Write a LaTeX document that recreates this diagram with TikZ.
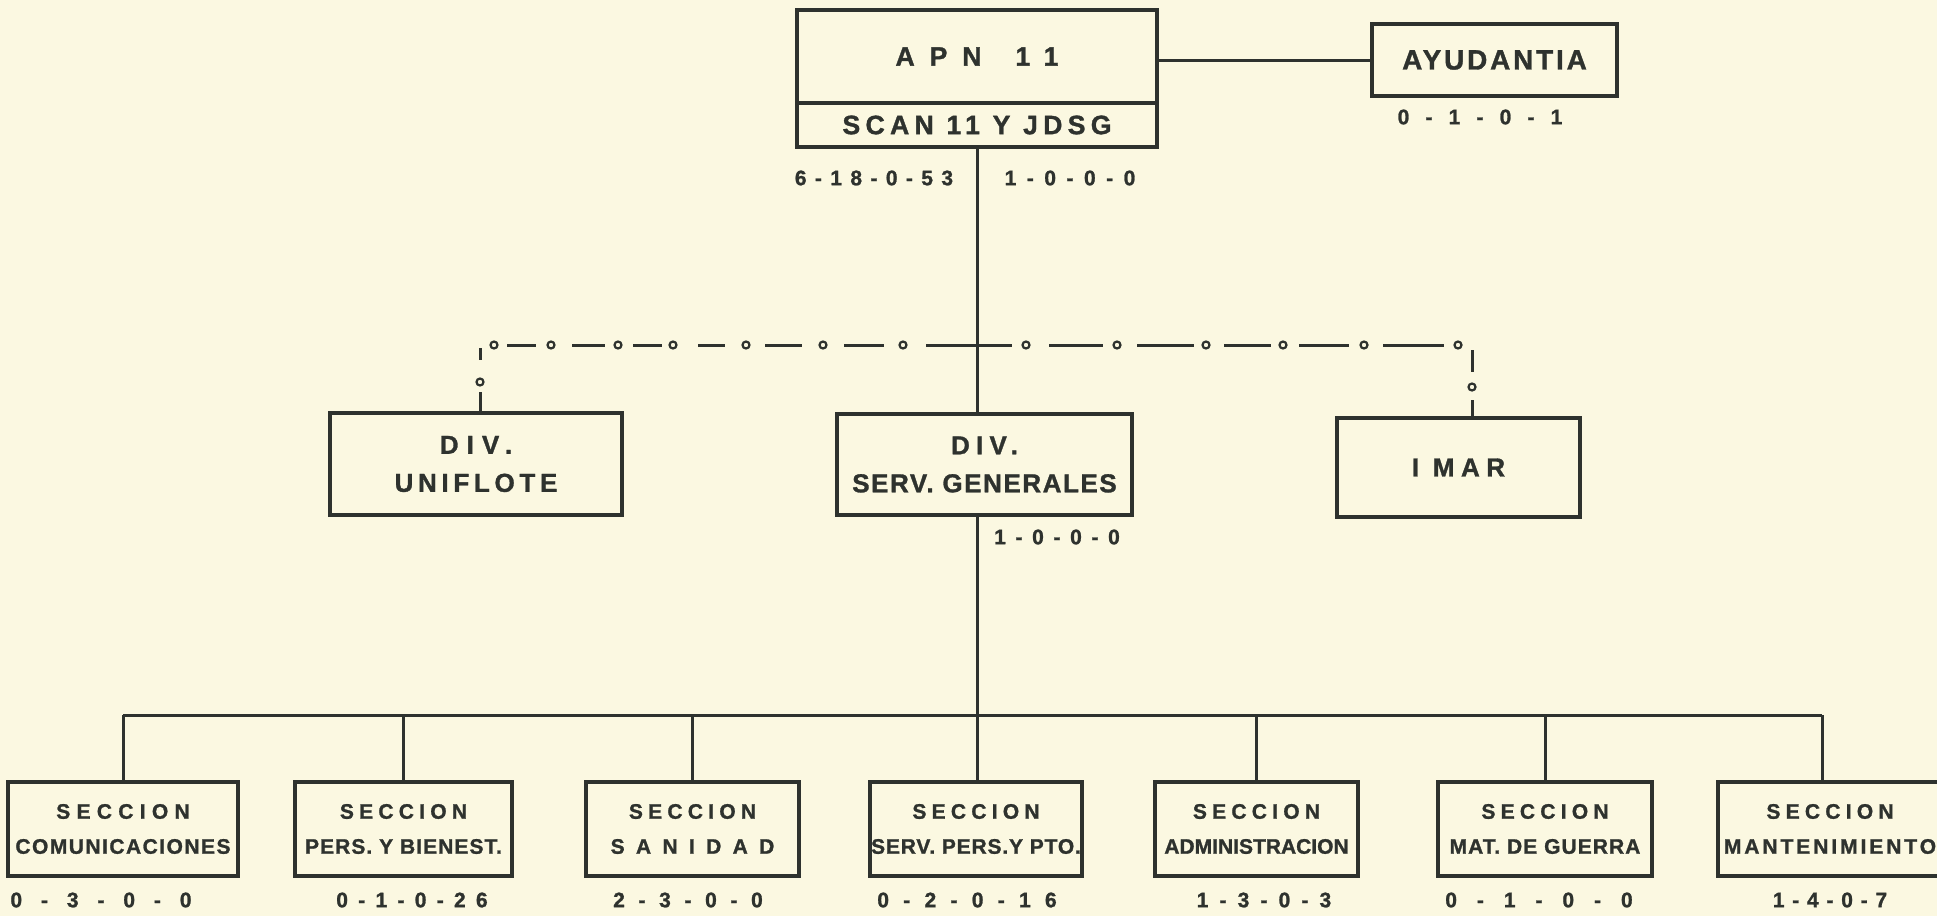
\documentclass[tikz,border=0pt]{standalone}
\usepackage{fontspec}
\setmainfont{Liberation Sans}[BoldFeatures={FakeBold=1.2}]
\usetikzlibrary{positioning}

\definecolor{paper}{RGB}{251,248,225}
\definecolor{ink}{RGB}{46,50,46}

\newcommand{\spaced}[2]{{\addfontfeature{LetterSpace=#1}#2}}

\tikzset{
  box/.style={draw=ink, line width=1.7pt, inner sep=0pt, align=center, text=ink},
  topbox/.style={box, outer sep=0pt, minimum width=180pt, font=\fontsize{13.3}{16}\bfseries\selectfont},
  divbox/.style={box, font=\fontsize{13}{19}\bfseries\selectfont},
  secbox/.style={box, minimum height=47pt, font=\fontsize{10.5}{17.5}\bfseries\selectfont},
  count/.style={text=ink, inner sep=0pt, font=\fontsize{10.5}{12}\bfseries\selectfont},
  link/.style={draw=ink, line width=1.5pt},
  ring/.style={draw=ink, line width=1.1pt, fill=paper}
}

\begin{document}
\begin{tikzpicture}[x=0.5pt, y=-0.5pt]
  \fill[paper] (0,0) rectangle (1937,916);
  \useasboundingbox (0,0) rectangle (1937,916);

  % command
  \node[topbox, minimum height=46.5pt] (apn) at (977,56.5) {\spaced{56}{APN\hskip 17pt 11}};
  \node[topbox, minimum height=22pt, below=0pt of apn] (scan) {\spaced{20}{SCAN 11 Y JDSG}};
  \node[box, minimum width=122.5pt, minimum height=36pt, font=\fontsize{14}{16}\bfseries\selectfont] (ayud) at (1494.5,60) {\spaced{10}{AYUDANTIA}};

  % divisions
  \node[divbox, minimum width=146pt, minimum height=51pt] (unif) at (476,464) {\spaced{31}{DIV.}\\\spaced{18}{UNIFLOTE}};
  \node[divbox, minimum width=147.5pt, minimum height=50.5pt] (servgen) at (984.5,464.5) {\spaced{24}{DIV.}\\\spaced{6}{SERV. GENERALES}};
  \node[divbox, minimum width=121.5pt, minimum height=49.5pt] (imar) at (1458.5,467.5) {\spaced{25}{I MAR}};

  % sections
  \node[secbox, minimum width=115pt] (com) at (123,829) {\spaced{30}{SECCION}\\\spaced{7}{COMUNICACIONES}};
  \node[secbox, minimum width=108.5pt] (pers) at (403.5,829) {\spaced{25}{SECCION}\\\spaced{5}{PERS. Y BIENEST.}};
  \node[secbox, minimum width=106.5pt] (san) at (692.5,829) {\spaced{25}{SECCION}\\\spaced{54}{SANIDAD}};
  \node[secbox, minimum width=106pt] (servp) at (976,829) {\spaced{25}{SECCION}\\\spaced{4}{SERV. PERS.Y PTO.}};
  \node[secbox, minimum width=101.5pt] (adm) at (1256.5,829) {\spaced{25}{SECCION}\\ADMINISTRACION};
  \node[secbox, minimum width=107pt] (mat) at (1545,829) {\spaced{25}{SECCION}\\\spaced{5}{MAT. DE GUERRA}};
  \node[secbox, minimum width=112pt] (mant) at (1830,829) {\spaced{25}{SECCION}\\\spaced{14}{MANTENIMIENTO}};

  % strength figures
  \node[count] (nApn) at (874,178) {\spaced{40}{6-18-0-53}};
  \node[count] (nScan) at (1070,178) {\spaced{50}{1-0-0-0}};
  \node[count] (nAyud) at (1480,117) {\spaced{77}{0-1-0-1}};
  \node[count] (nServgen) at (1057,537) {\spaced{46}{1-0-0-0}};
  \node[count] (nCom) at (101,900) {\spaced{90}{0-3-0-0}};
  \node[count] (nPers) at (412,900) {\spaced{49}{0-1-0-26}};
  \node[count] (nSan) at (688,900) {\spaced{65}{2-3-0-0}};
  \node[count] (nServp) at (967,900) {\spaced{68}{0-2-0-16}};
  \node[count] (nAdm) at (1264,900) {\spaced{53}{1-3-0-3}};
  \node[count] (nMat) at (1539,900) {\spaced{95}{0-1-0-0}};
  \node[count] (nMant) at (1830,900) {\spaced{37}{1-4-0-7}};

  % solid lines
  \coordinate (bus) at (975,715);
  \coordinate (mtop) at ([xshift=-4pt]mant.north);
  \draw[link] (ayud.west -| apn.east) -- (ayud.west);
  \draw[link] (scan.south) -- (scan.south |- servgen.north);
  \draw[link] (scan.south |- servgen.south) -- (scan.south |- servp.north);
  \draw[link] (com.north |- bus) -- (mtop |- bus);
  \foreach \s in {com,pers,san,adm,mat}
    \draw[link] (\s.north |- bus) -- (\s.north);
  \draw[link] (mtop |- bus) -- (mtop);

  % dot-dash line to uniflote and imar
  \coordinate (dotl) at (480,345);
  \coordinate (dotr) at (1472,345);
  \foreach \a/\b in {507/536,572/605,633/662,698/725,765/802,844/884,926/1012,
                     1049/1103,1137/1194,1224/1271,1299/1349,1383/1444}
    \draw[link] (\a,345) -- (\b,345);
  \foreach \x in {494,551,618,673,746,823,903,1026,1117,1206,1283,1364,1458}
    \draw[ring] (\x,345) circle[radius=1.75pt];
  \draw[link] ([yshift=-1.5pt]dotl) -- ++(0,12);
  \draw[ring] ([yshift=-18.5pt]dotl) circle[radius=1.75pt];
  \draw[link] ([yshift=-23.5pt]dotl) -- (dotl |- unif.north);
  \draw[link] ([yshift=-2.5pt]dotr) -- ++(0,22);
  \draw[ring] ([yshift=-21pt]dotr) circle[radius=1.75pt];
  \draw[link] ([yshift=-27.5pt]dotr) -- (dotr |- imar.north);
\end{tikzpicture}
\end{document}
